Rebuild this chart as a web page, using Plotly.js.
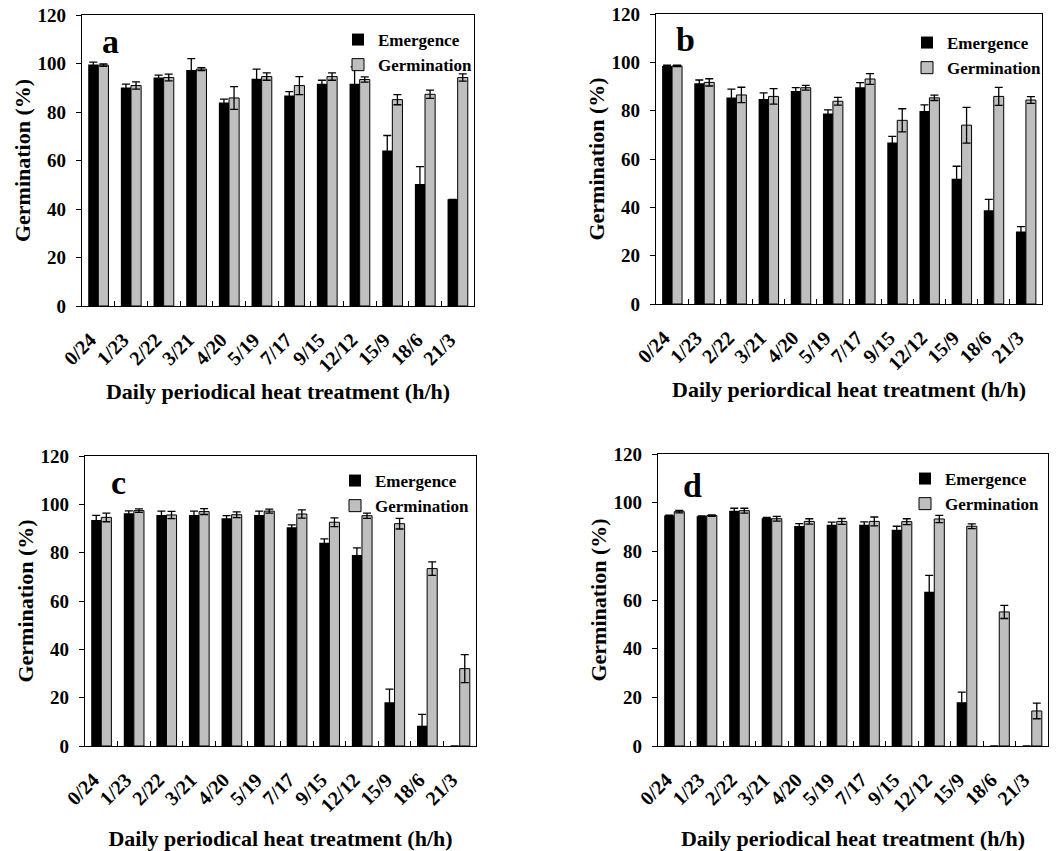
<!DOCTYPE html>
<html>
<head>
<meta charset="utf-8">
<script src="https://cdn.plot.ly/plotly-3.0.1.min.js"></script>
<style>html,body{margin:0;padding:0;background:#fff;}#chart{width:1063px;height:851px;}</style>
</head>
<body>
<div id="chart"></div>
<script>
// ---- data ----
var categories = ['0/24','1/23','2/22','3/21','4/20','5/19','7/17','9/15','12/12','15/9','18/6','21/3'];

var emergA    = [99.6, 90.1, 94.2, 97.3, 83.9, 93.7, 86.8, 91.7, 91.7, 64.1, 50.3, 44.0];
var emergAErr = [1.0, 1.4, 1.0, 4.7, 1.4, 4.0, 1.6, 1.4, 6.9, 6.2, 7.2, 0];
var germA     = [99.3, 90.9, 94.2, 97.7, 85.8, 94.6, 90.9, 94.6, 93.4, 85.1, 87.3, 94.2];
var germAErr  = [0.5, 1.5, 1.4, 0.6, 4.7, 1.5, 3.7, 1.5, 1.1, 2.1, 1.7, 1.5];

var emergB    = [98.5, 91.3, 85.5, 84.8, 88.1, 78.8, 89.7, 66.8, 79.9, 51.8, 38.8, 30.0];
var emergBErr = [0.3, 1.4, 3.4, 2.6, 1.4, 1.5, 1.9, 2.6, 2.5, 5.2, 4.5, 2.0];
var germB     = [98.5, 91.7, 86.5, 85.9, 89.5, 83.9, 93.1, 76.0, 85.3, 74.0, 85.9, 84.4];
var germBErr  = [0.3, 1.5, 3.2, 3.2, 1.0, 1.6, 2.2, 4.8, 1.1, 7.4, 3.7, 1.4];

var emergC    = [93.5, 96.3, 95.6, 95.6, 94.2, 95.6, 90.5, 84.1, 79.0, 18.1, 8.4, 0];
var emergCErr = [1.9, 1.0, 1.6, 1.6, 1.1, 1.6, 1.0, 1.6, 3.0, 5.4, 4.7, null];
var germC     = [94.6, 97.4, 95.6, 97.0, 95.7, 97.2, 96.0, 92.6, 95.3, 92.0, 73.4, 32.0];
var germCErr  = [1.8, 0.7, 1.5, 1.2, 1.2, 0.8, 1.7, 1.8, 1.1, 2.2, 2.8, 5.8];

var emergD    = [94.7, 94.4, 96.7, 93.6, 90.4, 90.9, 90.9, 88.9, 63.4, 18.0, 0, 0];
var emergDErr = [0.2, 0.2, 1.0, 0.3, 1.0, 1.1, 1.2, 1.4, 6.7, 4.1, null, null];
var germD     = [96.3, 94.7, 96.7, 93.4, 92.3, 92.3, 92.3, 92.2, 93.3, 90.3, 55.1, 14.4];
var germDErr  = [0.5, 0.3, 1.0, 1.0, 1.1, 1.2, 1.8, 1.2, 1.5, 1.0, 2.7, 3.2];

var panelLetters = ['a', 'b', 'c', 'd'];
var xTitles = ['Daily periodical heat treatment (h/h)', 'Daily periordical heat treatment (h/h)',
               'Daily periodical heat treatment (h/h)', 'Daily periodical heat treatment (h/h)'];
var yTitle = 'Germination (%)';
var seriesNames = ['Emergence', 'Germination'];
var yTicks = [0, 20, 40, 60, 80, 100, 120];

// ---- layout geometry (pixels) ----
var W = 1063, H = 851;
var boxes = [
  {l: 82,  r: 474,  t: 15,  b: 306},
  {l: 656, r: 1042, t: 14,  b: 304},
  {l: 85,  r: 476,  t: 456, b: 746},
  {l: 658, r: 1048, t: 454, b: 746}
];
var letterPos = [[110, 42], [685, 40], [118, 482], [692, 485]];
var legendPos = [[338, 22], [907, 25], [335, 463], [905, 461]];
var xTitleStandoff = [8, 8, 25, 25];

var FONT = '"Liberation Serif", "Times New Roman", serif';
var GRAY = '#bfbfbf';

var panels = [
  [emergA, emergAErr, germA, germAErr],
  [emergB, emergBErr, germB, germBErr],
  [emergC, emergCErr, germC, germCErr],
  [emergD, emergDErr, germD, germDErr]
];

var traces = [];
var layout = {
  width: W, height: H,
  margin: {l: 0, r: 0, t: 0, b: 0},
  paper_bgcolor: '#fff', plot_bgcolor: '#fff',
  barmode: 'group', bargap: 0.38, bargroupgap: 0,
  font: {family: FONT, color: '#000'},
  annotations: []
};

panels.forEach(function (p, i) {
  var n = i === 0 ? '' : String(i + 1);
  var legName = 'legend' + n;
  var bx = boxes[i];
  traces.push({
    type: 'bar', x: categories, y: p[0], name: seriesNames[0],
    xaxis: 'x' + n, yaxis: 'y' + n, legend: legName,
    marker: {color: '#000', line: {color: '#000', width: 0}},
    error_y: {type: 'data', array: p[1], visible: true, color: '#000', thickness: 1.3, width: 4}
  });
  traces.push({
    type: 'bar', x: categories, y: p[2], name: seriesNames[1],
    xaxis: 'x' + n, yaxis: 'y' + n, legend: legName,
    marker: {color: GRAY, line: {color: '#000', width: 1}},
    error_y: {type: 'data', array: p[3], visible: true, color: '#000', thickness: 1.3, width: 4}
  });
  layout['xaxis' + n] = {
    domain: [bx.l / W, bx.r / W], anchor: 'y' + n,
    type: 'category', range: [-0.5, 11.5],
    showline: true, linecolor: '#000', linewidth: 1.3, mirror: true,
    ticks: 'inside', tickson: 'boundaries', ticklen: 5, tickcolor: '#000', tickwidth: 1,
    tickangle: -45, ticklabelshift: -8, ticklabelstandoff: 13,
    tickfont: {family: FONT, size: 20, weight: 'bold', color: '#000'},
    showgrid: false, zeroline: false, fixedrange: true,
    title: {text: xTitles[i], standoff: xTitleStandoff[i], font: {family: FONT, size: 22, weight: 'bold', color: '#000'}}
  };
  layout['yaxis' + n] = {
    domain: [1 - bx.b / H, 1 - bx.t / H], anchor: 'x' + n,
    range: [0, 120], tickvals: yTicks,
    showline: true, linecolor: '#000', linewidth: 1.3, mirror: true,
    ticks: 'outside', ticklen: 5, tickcolor: '#000', tickwidth: 1,
    ticklabelstandoff: 6,
    tickfont: {family: FONT, size: 19, weight: 'bold', color: '#000'},
    showgrid: false, zeroline: false, fixedrange: true,
    title: {text: yTitle, standoff: 0, font: {family: FONT, size: 22, weight: 'bold', color: '#000'}}
  };
  layout[legName] = {
    x: legendPos[i][0] / W, y: 1 - legendPos[i][1] / H,
    xanchor: 'left', yanchor: 'top',
    bgcolor: 'rgba(0,0,0,0)', borderwidth: 0,
    itemwidth: 30, tracegroupgap: 0,
    font: {family: FONT, size: 17, weight: 'bold', color: '#000'},
    itemclick: false, itemdoubleclick: false
  };
  layout.annotations.push({
    xref: 'paper', yref: 'paper',
    x: letterPos[i][0] / W, y: 1 - letterPos[i][1] / H,
    xanchor: 'center', yanchor: 'middle', showarrow: false,
    text: panelLetters[i],
    font: {family: FONT, size: 34, weight: 'bold', color: '#000'}
  });
});

Plotly.newPlot('chart', traces, layout, {displayModeBar: false, staticPlot: true});
</script>
</body>
</html>
